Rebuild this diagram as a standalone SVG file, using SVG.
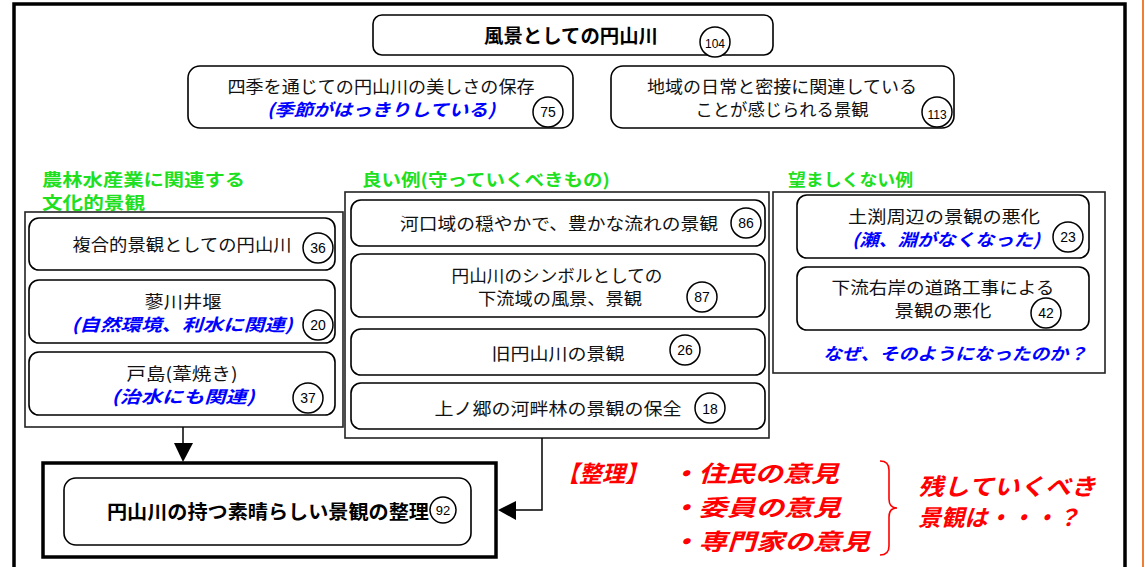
<svg xmlns="http://www.w3.org/2000/svg" width="1145" height="567" viewBox="0 0 1145 567">
<defs>
<style>
.jp{font-family:"Noto Sans CJK JP","Noto Sans CJK SC",sans-serif;}
.t{font-size:17px;fill:#111;text-anchor:middle;}
.tb{font-size:19px;font-weight:bold;fill:#000;text-anchor:middle;}
.bl{font-size:17px;font-weight:bold;font-style:italic;fill:#0000ff;text-anchor:middle;}
.gr{font-size:17px;font-weight:bold;fill:#1ee01e;}
.rd{font-size:23px;font-weight:bold;font-style:italic;fill:#ff0000;}
.box{fill:#fff;stroke:#000;stroke-width:1.6;}
.grp{fill:#fff;stroke:#222;stroke-width:1.6;}
.cir{fill:#fff;stroke:#000;stroke-width:1.5;}
.num{font-family:"Liberation Sans",Arial,sans-serif;font-size:14px;fill:#000;text-anchor:middle;}
.con{fill:none;stroke:#000;stroke-width:1.5;}
</style>
</defs>
<rect x="0" y="0" width="1145" height="567" fill="#fff"/>
<path d="M14,570 V4 H1125 V570" fill="none" stroke="#000" stroke-width="3.5"/>
<line x1="1143" y1="0" x2="1143" y2="567" stroke="#f07020" stroke-width="1.8"/>

<!-- top -->
<g id="n104">
<rect class="box" x="373" y="15" width="400" height="40" rx="9"/>
<text class="jp tb" x="571" y="43" textLength="174" lengthAdjust="spacingAndGlyphs">風景としての円山川</text>
<circle class="cir" cx="715" cy="42" r="15"/>
<text class="num" x="715" y="48" style="font-size:12px">104</text>
</g>
<g id="n75">
<rect class="box" x="188" y="66" width="385" height="62" rx="12"/>
<text class="jp t" x="381" y="93" textLength="307" lengthAdjust="spacingAndGlyphs">四季を通じての円山川の美しさの保存</text>
<text class="jp bl" x="381" y="116" textLength="228" lengthAdjust="spacingAndGlyphs">(季節がはっきりしている)</text>
<circle class="cir" cx="548" cy="112" r="15"/>
<text class="num" x="548" y="117">75</text>
</g>
<g id="n113">
<rect class="box" x="611" y="66" width="343" height="62" rx="12"/>
<text class="jp t" x="782" y="93" textLength="270" lengthAdjust="spacingAndGlyphs">地域の日常と密接に関連している</text>
<text class="jp t" x="782" y="116" textLength="173" lengthAdjust="spacingAndGlyphs">ことが感じられる景観</text>
<circle class="cir" cx="937" cy="112" r="15"/>
<text class="num" x="937" y="119" style="font-size:12px">113</text>
</g>

<!-- left group -->
<g id="g-left">
<text class="jp gr" x="42" y="186" textLength="203" lengthAdjust="spacingAndGlyphs">農林水産業に関連する</text>
<text class="jp gr" x="42" y="209" textLength="103" lengthAdjust="spacingAndGlyphs">文化的景観</text>
<rect class="grp" x="25" y="212" width="318" height="215"/>
</g>
<g id="n36">
<rect class="box" x="29" y="218" width="306" height="52" rx="10"/>
<text class="jp t" x="182" y="251" textLength="219" lengthAdjust="spacingAndGlyphs">複合的景観としての円山川</text>
<circle class="cir" cx="318" cy="248" r="15"/>
<text class="num" x="318" y="253">36</text>
</g>
<g id="n20">
<rect class="box" x="29" y="280" width="306" height="63" rx="10"/>
<text class="jp t" x="183" y="308" textLength="77" lengthAdjust="spacingAndGlyphs">蓼川井堰</text>
<text class="jp bl" x="182" y="331" textLength="221" lengthAdjust="spacingAndGlyphs">(自然環境、利水に関連)</text>
<circle class="cir" cx="318" cy="325" r="15"/>
<text class="num" x="318" y="330">20</text>
</g>
<g id="n37">
<rect class="box" x="29" y="352" width="306" height="63" rx="10"/>
<text class="jp t" x="182" y="380" textLength="111" lengthAdjust="spacingAndGlyphs">戸島(葦焼き)</text>
<text class="jp bl" x="183" y="403" textLength="143" lengthAdjust="spacingAndGlyphs">(治水にも関連)</text>
<circle class="cir" cx="308" cy="398" r="15"/>
<text class="num" x="308" y="403">37</text>
</g>

<!-- middle group -->
<g id="g-mid">
<text class="jp gr" x="362" y="186" textLength="248" lengthAdjust="spacingAndGlyphs">良い例(守っていくべきもの)</text>
<rect class="grp" x="345" y="192" width="424" height="246"/>
</g>
<g id="n86">
<rect class="box" x="351" y="200" width="414" height="46" rx="10"/>
<text class="jp t" x="559" y="230" textLength="318" lengthAdjust="spacingAndGlyphs">河口域の穏やかで、豊かな流れの景観</text>
<circle class="cir" cx="746" cy="223" r="15"/>
<text class="num" x="746" y="228">86</text>
</g>
<g id="n87">
<rect class="box" x="351" y="254" width="414" height="63" rx="10"/>
<text class="jp t" x="557" y="282" textLength="211" lengthAdjust="spacingAndGlyphs">円山川のシンボルとしての</text>
<text class="jp t" x="560" y="305" textLength="164" lengthAdjust="spacingAndGlyphs">下流域の風景、景観</text>
<circle class="cir" cx="702" cy="297" r="15"/>
<text class="num" x="702" y="302">87</text>
</g>
<g id="n26">
<rect class="box" x="351" y="329" width="414" height="46" rx="10"/>
<text class="jp t" x="558" y="360" textLength="133" lengthAdjust="spacingAndGlyphs">旧円山川の景観</text>
<circle class="cir" cx="685" cy="350" r="15"/>
<text class="num" x="685" y="355">26</text>
</g>
<g id="n18">
<rect class="box" x="351" y="383" width="414" height="46" rx="10"/>
<text class="jp t" x="558" y="415" textLength="247" lengthAdjust="spacingAndGlyphs">上ノ郷の河畔林の景観の保全</text>
<circle class="cir" cx="710" cy="408" r="15"/>
<text class="num" x="710" y="414">18</text>
</g>

<!-- right group -->
<g id="g-right">
<text class="jp gr" x="788" y="186" textLength="125" lengthAdjust="spacingAndGlyphs">望ましくない例</text>
<rect class="grp" x="773" y="192" width="332" height="181"/>
<text class="jp bl" x="955" y="360" textLength="264" lengthAdjust="spacingAndGlyphs">なぜ、そのようになったのか？</text>
</g>
<g id="n23">
<rect class="box" x="797" y="195" width="292" height="63" rx="10"/>
<text class="jp t" x="944" y="223" textLength="192" lengthAdjust="spacingAndGlyphs">土渕周辺の景観の悪化</text>
<text class="jp bl" x="946" y="246" textLength="188" lengthAdjust="spacingAndGlyphs">(瀬、淵がなくなった)</text>
<circle class="cir" cx="1068" cy="237" r="15"/>
<text class="num" x="1068" y="242">23</text>
</g>
<g id="n42">
<rect class="box" x="797" y="267" width="292" height="63" rx="10"/>
<text class="jp t" x="943" y="294" textLength="223" lengthAdjust="spacingAndGlyphs">下流右岸の道路工事による</text>
<text class="jp t" x="943" y="317" textLength="97" lengthAdjust="spacingAndGlyphs">景観の悪化</text>
<circle class="cir" cx="1046" cy="313" r="15"/>
<text class="num" x="1046" y="318">42</text>
</g>

<!-- bottom -->
<g id="n92">
<rect x="43" y="463" width="453" height="94" fill="#fff" stroke="#000" stroke-width="3.5"/>
<rect class="box" x="64" y="478" width="407" height="67" rx="12"/>
<text class="jp tb" x="268" y="519" textLength="322" lengthAdjust="spacingAndGlyphs">円山川の持つ素晴らしい景観の整理</text>
<circle class="cir" cx="443" cy="510" r="13"/>
<text class="num" x="443" y="515" style="font-size:13px">92</text>
</g>

<g id="connectors">
<line class="con" x1="183" y1="427" x2="183" y2="444"/>
<polygon points="174,443 193,443 183,462" fill="#000"/>
<polyline class="con" points="542,438 542,510 515,510"/>
<polygon points="516,501 516,520 498,510" fill="#000"/>
</g>

<g id="notes">
<text class="jp rd" x="556" y="482" textLength="92" lengthAdjust="spacingAndGlyphs">【整理】</text>
<text class="jp rd" x="670" y="482" textLength="169" lengthAdjust="spacingAndGlyphs">・住民の意見</text>
<text class="jp rd" x="670" y="516" textLength="171" lengthAdjust="spacingAndGlyphs">・委員の意見</text>
<text class="jp rd" x="670" y="550" textLength="200" lengthAdjust="spacingAndGlyphs">・専門家の意見</text>
<path d="M880,461 Q889,461 889,470 L889,499 Q889,508 897,508 Q889,508 889,517 L889,546 Q889,555 880,555" fill="none" stroke="#ff0000" stroke-width="1.6"/>
<text class="jp rd" x="918" y="495" textLength="178" lengthAdjust="spacingAndGlyphs">残していくべき</text>
<text class="jp rd" x="918" y="526" textLength="162" lengthAdjust="spacingAndGlyphs">景観は・・・？</text>
</g>
</svg>
